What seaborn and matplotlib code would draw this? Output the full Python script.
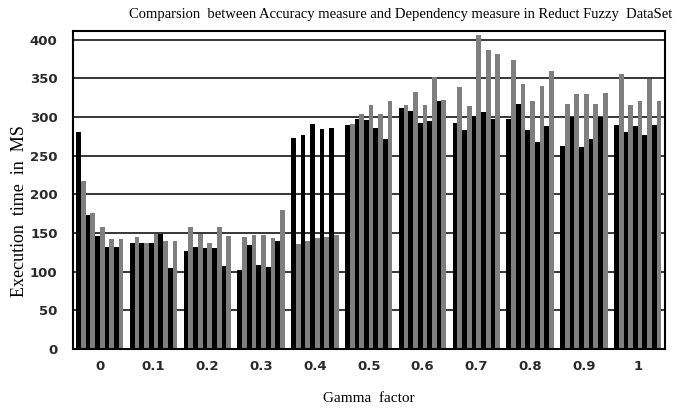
import pandas as pd
import numpy as np
import seaborn as sns
import matplotlib.pyplot as plt

gamma = ['0', '0.1', '0.2', '0.3', '0.4', '0.5', '0.6', '0.7', '0.8', '0.9', '1']

# 5 runs per gamma value, black = accuracy measure, gray = dependency measure
accuracy = [
    [280, 173, 146, 132, 132],
    [137, 137, 137, 149, 104],
    [126, 132, 130, 130, 107],
    [102, 134, 109, 106, 139],
    [272, 276, 291, 284, 286],
    [289, 297, 296, 286, 271],
    [312, 308, 292, 294, 320],
    [292, 283, 301, 306, 297],
    [297, 317, 283, 268, 288],
    [262, 300, 261, 271, 300],
    [290, 281, 288, 276, 290],
]
dependency = [
    [217, 176, 158, 142, 142],
    [145, 137, 149, 140, 140],
    [157, 149, 137, 158, 146],
    [145, 147, 147, 143, 179],
    [135, 140, 143, 145, 147],
    [291, 304, 315, 304, 320],
    [315, 332, 315, 351, 322],
    [338, 314, 406, 387, 381],
    [373, 343, 320, 340, 359],
    [317, 329, 330, 316, 331],
    [355, 315, 320, 349, 320],
]

filas = []
for i in range(len(gamma)):
    for j in range(5):
        filas.append([gamma[i], 'acc%d' % j, accuracy[i][j]])
        filas.append([gamma[i], 'dep%d' % j, dependency[i][j]])
df = pd.DataFrame(filas, columns=['gamma', 'serie', 'tiempo'])

orden = []
for j in range(5):
    orden += ['acc%d' % j, 'dep%d' % j]
colores = ['#000000', '#7f7f7f'] * 5

fig = plt.figure(figsize=(6.81, 4.08), dpi=100)
ax = fig.add_axes([0.107, 0.145, 0.869, 0.779])
ax.set_axisbelow(True)
ax.yaxis.grid(True, color='black', linewidth=1.1)

sns.barplot(data=df, x='gamma', y='tiempo', hue='serie', hue_order=orden,
            palette=colores, order=gamma, width=0.88, gap=0, saturation=1,
            legend=False, ax=ax)

ax.set_ylim(0, 411)
ax.set_xlim(-0.5, 10.5)
ax.set_yticks(np.arange(0, 401, 50))
for s in ax.spines.values():
    s.set_linewidth(1.5)
    s.set_color('black')
ax.tick_params(axis='y', length=0, pad=11)
ax.tick_params(axis='x', length=0, pad=8)
for t in ax.get_yticklabels() + ax.get_xticklabels():
    t.set_fontweight('bold')
    t.set_fontsize(9.5)
    t.set_color('#2a2a2a')

ax.set_xlabel('Gamma  factor', family='Liberation Serif', fontsize=11, labelpad=14)
ax.set_ylabel('')
fig.text(0.029, 0.483, 'Execution  time  in  MS', rotation=90, ha='center', va='center',
         family='Liberation Serif', fontsize=13)
fig.text(0.589, 0.965, 'Comparsion  between Accuracy measure and Dependency measure in Reduct Fuzzy  DataSet',
         ha='center', va='center', family='Liberation Serif', fontsize=10.5)

fig.savefig('out.png', dpi=100)
